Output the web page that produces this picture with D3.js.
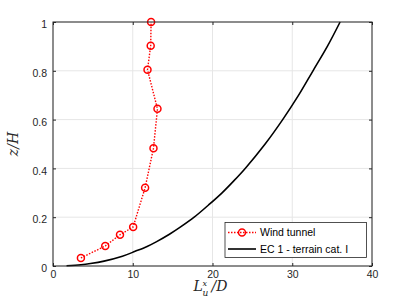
<!DOCTYPE html>
<html><head><meta charset="utf-8">
<script src="https://cdn.jsdelivr.net/npm/d3@7"></script>
<style>body{margin:0;background:#fff}svg{display:block}</style>
</head><body>
<script>
// Wind tunnel measurements
const wtX = [3.5, 6.55, 8.4, 10.05, 11.55, 12.6, 13.1, 11.85, 12.25, 12.3];
const wtY = [0.033, 0.082, 0.128, 0.16, 0.321, 0.483, 0.644, 0.804, 0.903, 1.0];
// EC 1 - terrain cat. I
const ecY = [0.001, 0.005, 0.01, 0.02, 0.04, 0.06, 0.08, 0.1, 0.13, 0.16, 0.2, 0.25, 0.3, 0.35, 0.4, 0.5, 0.6, 0.7, 0.8, 0.9, 1.0];
const ecX = [1.7, 3.5, 4.7, 6.4, 8.7, 10.3, 11.8, 13.0, 14.6, 16.0, 17.7, 19.5, 21.2, 22.7, 24.1, 26.6, 28.8, 30.8, 32.6, 34.4, 36.0];
const xTicks = [0, 10, 20, 30, 40];
const yTicks = [0, 0.2, 0.4, 0.6, 0.8, 1];
const legendLabels = ["Wind tunnel", "EC 1 - terrain cat. I"];

const W = 411, H = 308;
const m = {l: 53, r: 411 - 372, t: 22, b: 308 - 266};
const svg = d3.select("body").append("svg").attr("width", W).attr("height", H);
const x = d3.scaleLinear().domain([0, 40]).range([m.l, W - m.r]);
const y = d3.scaleLinear().domain([0, 1]).range([H - m.b, m.t]);
const font = "'Liberation Sans', Arial, sans-serif";
const axCol = "#262626";

// grid
const g = svg.append("g");
g.selectAll(".gx").data(xTicks).join("line")
  .attr("x1", d => x(d)).attr("x2", d => x(d)).attr("y1", y(0)).attr("y2", y(1))
  .attr("stroke", "#e6e6e6").attr("stroke-width", 1);
g.selectAll(".gy").data(yTicks).join("line")
  .attr("y1", d => y(d)).attr("y2", d => y(d)).attr("x1", x(0)).attr("x2", x(40))
  .attr("stroke", "#e6e6e6").attr("stroke-width", 1);

// EC curve
const ecData = ecX.map((v, i) => [v, ecY[i]]);
svg.append("path").datum(ecData)
  .attr("d", d3.line().x(d => x(d[0])).y(d => y(d[1])).curve(d3.curveCatmullRom))
  .attr("fill", "none").attr("stroke", "#000").attr("stroke-width", 1.6);

// wind tunnel
const wtData = wtX.map((v, i) => [v, wtY[i]]);
svg.append("path").datum(wtData)
  .attr("d", d3.line().x(d => x(d[0])).y(d => y(d[1])))
  .attr("fill", "none").attr("stroke", "#ff0000").attr("stroke-width", 1.4)
  .attr("stroke-dasharray", "1.5,1.5");
svg.selectAll(".mk").data(wtData).join("circle")
  .attr("cx", d => x(d[0])).attr("cy", d => y(d[1])).attr("r", 3.5)
  .attr("fill", "none").attr("stroke", "#ff0000").attr("stroke-width", 1.5);

// axes box
const ax = svg.append("g");
ax.append("rect").attr("x", x(0)).attr("y", y(1)).attr("width", x(40) - x(0)).attr("height", y(0) - y(1))
  .attr("fill", "none").attr("stroke", axCol).attr("stroke-width", 1);
const xa = d3.axisBottom(x).tickValues(xTicks).tickSize(-3).tickPadding(5).tickFormat(d3.format("d"));
const xg = ax.append("g").attr("transform", `translate(0,${y(0)})`).call(xa);
const xt = ax.append("g").attr("transform", `translate(0,${y(1)})`).call(d3.axisTop(x).tickValues(xTicks).tickSize(-3).tickFormat(""));
const ya = d3.axisLeft(y).tickValues(yTicks).tickSize(-3).tickPadding(6).tickFormat(d => d === 0 || d === 1 ? String(d) : d.toFixed(1));
const yg = ax.append("g").attr("transform", `translate(${x(0)},0)`).call(ya);
const yr = ax.append("g").attr("transform", `translate(${x(40)},0)`).call(d3.axisRight(y).tickValues(yTicks).tickSize(-3).tickFormat(""));
[xg, xt, yg, yr].forEach(s => {
  s.select(".domain").remove();
  s.selectAll("line").attr("stroke", axCol);
  s.selectAll("text").attr("fill", axCol).style("font-family", font).style("font-size", "10.5px");
});
yg.selectAll("text").attr("dy", "0.55em");

// axis labels
const serif = "'DejaVu Serif', 'Liberation Serif', serif";
const cx = (x(0) + x(40)) / 2;
const xl = svg.append("g").attr("fill", axCol).style("font-family", serif).style("font-style", "italic");
xl.append("text").attr("x", cx - 19).attr("y", 291).style("font-size", "14px").text("L");
xl.append("text").attr("x", cx - 10).attr("y", 295.5).style("font-size", "9px").text("u");
xl.append("text").attr("x", cx - 10).attr("y", 286).style("font-size", "8px").text("x");
xl.append("text").attr("x", cx - 1).attr("y", 291).style("font-size", "14px").text("/D");
svg.append("text").attr("transform", `translate(18,${(y(0) + y(1)) / 2}) rotate(-90)`).attr("text-anchor", "middle")
  .attr("fill", axCol).style("font-family", serif).style("font-style", "italic").style("font-size", "14px")
  .text("z/H");

// legend
const lg = svg.append("g");
lg.append("rect").attr("x", 225).attr("y", 222.5).attr("width", 141.5).attr("height", 35)
  .attr("fill", "#fff").attr("stroke", axCol).attr("stroke-width", 0.8);
const rows = [232.5, 249];
lg.append("line").attr("x1", 228).attr("x2", 256).attr("y1", rows[0]).attr("y2", rows[0])
  .attr("stroke", "#ff0000").attr("stroke-width", 1.4).attr("stroke-dasharray", "1.5,1.5");
lg.append("circle").attr("cx", 242).attr("cy", rows[0]).attr("r", 3.5).attr("fill", "none").attr("stroke", "#ff0000").attr("stroke-width", 1.5);
lg.append("line").attr("x1", 228).attr("x2", 256).attr("y1", rows[1]).attr("y2", rows[1])
  .attr("stroke", "#000").attr("stroke-width", 1.6);
lg.selectAll(".lt").data(legendLabels).join("text")
  .attr("x", 260).attr("y", (d, i) => rows[i]).attr("dy", "0.35em")
  .attr("fill", "#000").style("font-family", font).style("font-size", "10.5px").text(d => d);
</script>
</body></html>
